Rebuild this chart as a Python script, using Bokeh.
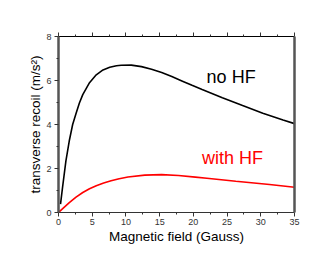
from bokeh.plotting import figure
from bokeh.models import LinearAxis, FixedTicker, Range1d, CustomJSTickFormatter
from bokeh.core.properties import value
from bokeh.embed import file_html
from bokeh.resources import INLINE

# Data
field_nohf = [0.3, 0.6, 1.1, 1.6, 2.1, 2.6, 3.1, 3.6, 4.6, 5.6, 6.6, 7.6, 8.6, 9.3, 10.8,
              12.3, 13.8, 15.3, 16.8, 18.3, 19.8, 21.3, 24.3, 27.3, 30.3, 33.3, 35]
recoil_nohf = [0.38, 1.14, 2.35, 3.26, 4.0, 4.5, 4.98, 5.36, 5.9, 6.26, 6.48, 6.6, 6.67,
               6.69, 6.70, 6.63, 6.51, 6.36, 6.18, 5.98, 5.78, 5.59, 5.22, 4.86, 4.51, 4.2, 4.04]
field_hf = [0, 0.5, 1.6, 2.6, 3.6, 4.6, 5.6, 6.7, 7.8, 9.0, 10.3, 12.8, 15.3, 17.8, 20.3,
            22, 26.3, 31.3, 35]
recoil_hf = [0.0, 0.14, 0.45, 0.7, 0.91, 1.08, 1.22, 1.34, 1.44, 1.53, 1.61, 1.70, 1.72,
             1.68, 1.61, 1.56, 1.42, 1.27, 1.15]

x_ticks = [0, 5, 10, 15, 20, 25, 30, 35]
x_minor = [2.5, 7.5, 12.5, 17.5, 22.5, 27.5, 32.5]
y_ticks = [0, 2, 4, 6, 8]
y_minor = [1, 3, 5, 7]

FONT = "Liberation Sans"

p = figure(frame_width=236, frame_height=176,
           min_border_left=58, min_border_right=33, min_border_top=36, min_border_bottom=54,
           x_range=Range1d(0, 35), y_range=Range1d(0, 8),
           output_backend="svg", toolbar_location=None, background_fill_color="white")
p.grid.visible = False
p.outline_line_color = None

p.line(field_nohf, recoil_nohf, line_color="black", line_width=1.6)
p.line(field_hf, recoil_hf, line_color="red", line_width=1.6)

p.text(x=[25.6], y=[6.17], text=["no HF"], text_color="black", text_font=value(FONT),
       text_font_size="18px", text_align="center", text_baseline="middle")
p.text(x=[25.8], y=[2.49], text=["with HF"], text_color="red", text_font=value(FONT),
       text_font_size="18px", text_align="center", text_baseline="middle")

xax = p.xaxis[0]
xax.ticker = FixedTicker(ticks=x_ticks, minor_ticks=x_minor)
xax.axis_label = "Magnetic field (Gauss)"
yax = p.yaxis[0]
yax.ticker = FixedTicker(ticks=y_ticks, minor_ticks=y_minor)
yax.axis_label = "transverse recoil (m/s²)"

for ax in (xax, yax):
    ax.axis_label_text_font = FONT
    ax.axis_label_text_font_size = "13.5px"
    ax.axis_label_text_font_style = "normal"
    ax.axis_label_text_color = "black"
    ax.major_label_text_font = FONT
    ax.major_label_text_font_size = "9px"
    ax.major_label_text_color = "#333333"
    ax.major_tick_in = 0
    ax.major_tick_out = 4
    ax.minor_tick_in = 0
    ax.minor_tick_out = 2
    ax.major_tick_line_color = "#333333"
    ax.minor_tick_line_color = "#333333"

xax.axis_line_color = "#333333"
xax.axis_line_width = 1
xax.major_label_standoff = 2
xax.axis_label_standoff = 1
yax.axis_line_color = "#555555"
yax.axis_line_width = 2.5
yax.major_label_standoff = 3
yax.axis_label_standoff = 0

blank = CustomJSTickFormatter(code="return '';")
top = LinearAxis(ticker=FixedTicker(ticks=x_ticks, minor_ticks=x_minor),
                 formatter=blank, axis_line_color="black",
                 axis_line_width=1.2, major_tick_in=0, major_tick_out=4,
                 minor_tick_in=0, minor_tick_out=2, major_label_standoff=0,
                 major_tick_line_color="#333333", minor_tick_line_color="#333333")
p.add_layout(top, "above")

right = LinearAxis(ticker=FixedTicker(ticks=[]), formatter=blank,
                   axis_line_color="#555555", axis_line_width=2.5, major_label_standoff=0,
                   major_tick_line_color=None, minor_tick_line_color=None)
p.add_layout(right, "right")

open("out.html", "w").write(file_html(p, INLINE))
